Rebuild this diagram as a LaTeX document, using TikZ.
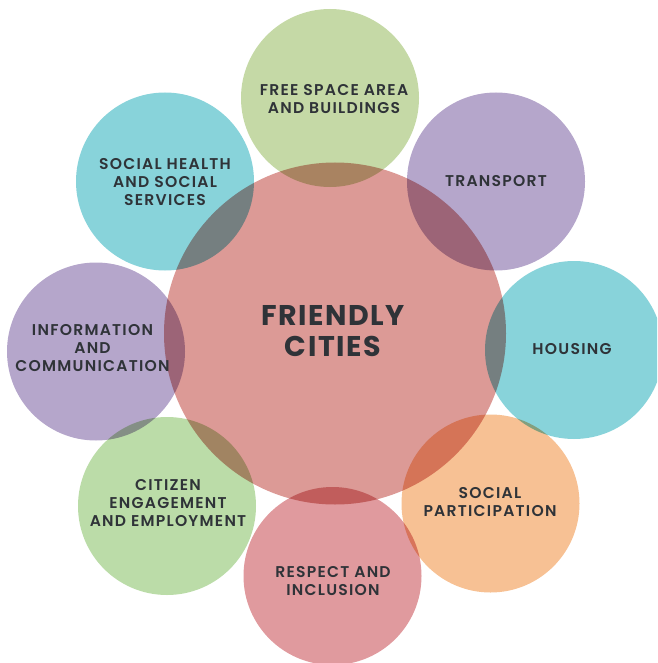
\documentclass[tikz,border=0pt]{standalone}
\usepackage{fontspec}
\setmainfont{Poppins}
\newfontfamily\labelfont[LetterSpace=8]{Poppins SemiBold}
\newfontfamily\titlefont[LetterSpace=5.5]{Poppins Bold}
\definecolor{centerpink}{HTML}{DC9A96}
\definecolor{sage}{HTML}{C5D9A6}
\definecolor{leaf}{HTML}{BBDCA8}
\definecolor{lavender}{HTML}{B5A6CB}
\definecolor{aqua}{HTML}{88D3DA}
\definecolor{peach}{HTML}{F7C194}
\definecolor{rose}{HTML}{E09A9E}
\definecolor{ink}{HTML}{2F3338}
\tikzset{
  bubble/.style={circle, inner sep=0pt, minimum size=178pt, draw=none},
  hub/.style={circle, inner sep=0pt, minimum size=342pt, draw=none, fill=centerpink},
  bubbletext/.style={text=ink, align=center, font=\labelfont\fontsize{15.6}{18.3}\selectfont},
  hubtext/.style={text=ink, align=center, font=\titlefont\fontsize{28.5}{31.5}\selectfont}
}
\begin{document}
\begin{tikzpicture}[x=1pt,y=-1pt]
  \useasboundingbox (0,0) rectangle (657,663);
  \begin{scope}
    \clip (0,0) rectangle (657,663);
    % central disc
    \node[hub] (hub) at (335,333.5) {};
    % surrounding discs, multiplied over the centre
    \begin{scope}[blend mode=multiply]
      \node[bubble, fill=sage]     (space)     at (330,98)    {};
      \node[bubble, fill=lavender] (transport) at (496,181.5) {};
      \node[bubble, fill=aqua]     (housing)   at (574,350)   {};
      \node[bubble, fill=peach]    (social)    at (490.5,503.5) {};
      \node[bubble, fill=rose]     (respect)   at (332.5,576) {};
      \node[bubble, fill=leaf]     (citizen)   at (167,506)   {};
      \node[bubble, fill=lavender] (info)      at (96,351.5)  {};
      \node[bubble, fill=aqua]     (health)    at (165,181.5) {};
    \end{scope}
  \end{scope}
  % labels
  \node[hubtext] (hublabel) at (333,331) {FRIENDLY\\CITIES};
  \node[bubbletext] (spacelabel) at (334,99) {FREE SPACE AREA\\AND BUILDINGS};
  \node[bubbletext] (transportlabel) at (496,181) {TRANSPORT};
  \node[bubbletext] (housinglabel) at (572,349) {HOUSING};
  \node[bubbletext] (sociallabel) at (490,502) {SOCIAL\\PARTICIPATION};
  \node[bubbletext] (respectlabel) at (333,581) {RESPECT AND\\INCLUSION};
  \node[bubbletext] (citizenlabel) at (168,503) {CITIZEN\\ENGAGEMENT\\AND EMPLOYMENT};
  \node[bubbletext] (infolabel) at (92.5,348) {INFORMATION\\AND\\COMMUNICATION};
  \node[bubbletext] (healthlabel) at (165,182) {SOCIAL HEALTH\\AND SOCIAL\\SERVICES};
\end{tikzpicture}
\end{document}
